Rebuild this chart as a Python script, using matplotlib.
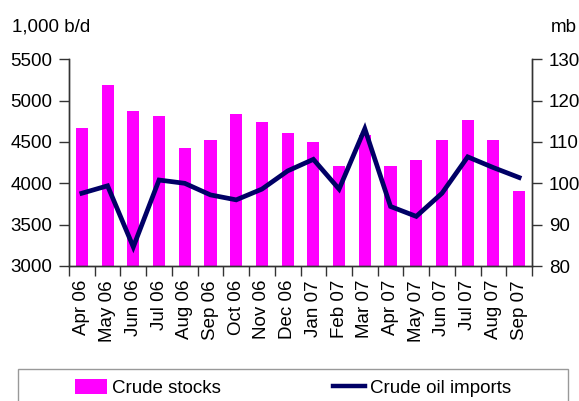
import matplotlib
matplotlib.use("Agg")
import matplotlib.pyplot as plt
from matplotlib.patches import Rectangle, Patch
from matplotlib.lines import Line2D
import numpy as np

months = ["Apr 06", "May 06", "Jun 06", "Jul 06", "Aug 06", "Sep 06", "Oct 06",
          "Nov 06", "Dec 06", "Jan 07", "Feb 07", "Mar 07", "Apr 07", "May 07",
          "Jun 07", "Jul 07", "Aug 07", "Sep 07"]
# crude stocks, mb (right axis)
crude_stocks = [113.4, 123.8, 117.5, 116.3, 108.6, 110.5, 116.8, 114.9, 112.2,
                110.0, 104.2, 111.7, 104.2, 105.7, 110.5, 115.3, 110.5, 98.2]
# crude oil imports, 1,000 b/d (left axis)
crude_imports = [3880, 3970, 3230, 4040, 4000, 3860, 3800, 3930, 4150,
                 4290, 3930, 4660, 3720, 3600, 3880, 4320, 4190, 4070]

left_ticks = [3000, 3500, 4000, 4500, 5000, 5500]
right_ticks = [80, 90, 100, 110, 120, 130]

plt.rcParams["font.family"] = ["Liberation Sans", "DejaVu Sans"]
FS = 13.5
AXC = "#333333"
BAR_C = "#ff00ff"
LINE_C = "#000066"

fig = plt.figure(figsize=(5.79, 4.01), dpi=100)
x = np.arange(len(months))

# stocks axis (drawn first)
ax_s = fig.add_axes([69 / 579, 1 - 266 / 401, (532 - 69) / 579, (266 - 59.3) / 401])
ax_s.bar(x, crude_stocks, width=0.47, color=BAR_C, zorder=2)
ax_s.set_ylim(80, 130)
ax_s.set_yticks(right_ticks)
ax_s.set_xlim(-0.5, len(months) - 0.5)

# imports axis on top
ax_i = ax_s.twinx()
ax_i.plot(x, crude_imports, color=LINE_C, lw=3.4, solid_joinstyle="miter", zorder=3)
ax_i.set_ylim(3000, 5500)
ax_i.set_yticks(left_ticks)
ax_i.set_xlim(-0.5, len(months) - 0.5)

# imports scale on the left, stocks scale on the right
ax_i.yaxis.tick_left()
ax_s.yaxis.tick_right()

for a in (ax_s, ax_i):
    a.spines["top"].set_visible(False)
    for s in ("left", "right", "bottom"):
        a.spines[s].set_color(AXC)
        a.spines[s].set_linewidth(1.0)
    a.tick_params(axis="y", direction="out", length=7, width=1.0, color=AXC,
                  labelsize=FS, pad=5)

ax_s.set_xticks(np.arange(len(months) + 1) - 0.5, minor=False)
ax_s.set_xticklabels([])
ax_s.set_xticks(x, minor=True)
ax_s.set_xticklabels(months, minor=True, rotation=90, fontsize=FS)
ax_s.tick_params(axis="x", which="major", direction="out", length=7, width=1.0, color=AXC)
ax_s.tick_params(axis="x", which="minor", length=0, pad=10)
ax_i.tick_params(axis="x", which="both", bottom=False, labelbottom=False)

fig.text(12 / 579, 1 - 27 / 401, "1,000 b/d", fontsize=FS, ha="left", va="center")
fig.text(577 / 579, 1 - 27 / 401, "mb", fontsize=FS, ha="right", va="center")

# legend box running off the bottom edge
fig.patches.append(Rectangle((18 / 579, -0.2), 550 / 579, 0.2 + (401 - 369) / 401,
                             transform=fig.transFigure, fill=False,
                             edgecolor="#999999", lw=1.0))
handles = [Patch(facecolor=BAR_C, edgecolor="none"),
           Line2D([0], [0], color=LINE_C, lw=3.2)]
fig.legend(handles, ["Crude stocks", "Crude oil imports"], ncol=2, frameon=False,
           loc="center left", bbox_to_anchor=(75 / 579, 1 - 388 / 401),
           fontsize=FS, handlelength=1.7, handleheight=0.8, handletextpad=0.25,
           columnspacing=6.0, borderpad=0, borderaxespad=0)

fig.savefig("out.png", dpi=100)
